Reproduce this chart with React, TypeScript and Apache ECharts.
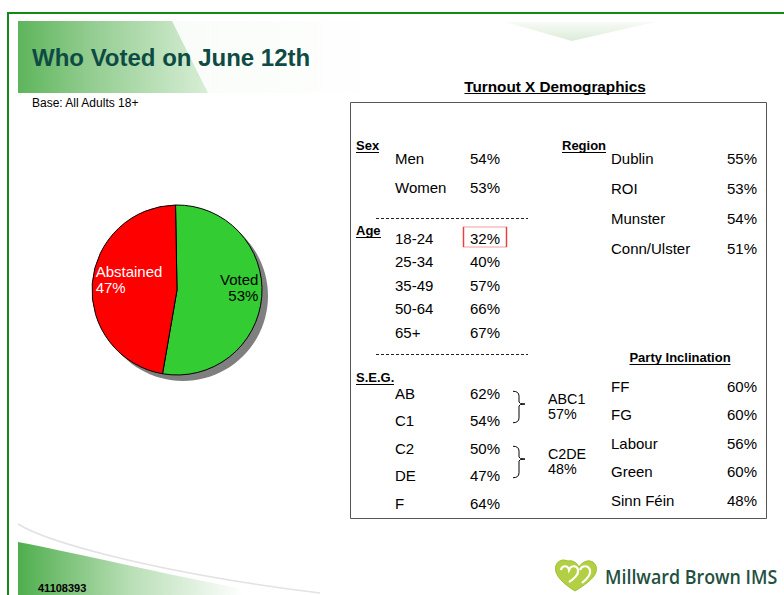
import React, { useEffect, useRef } from 'react';
import * as echarts from 'echarts';

// ---------- data ----------
const pieNames = ['Voted', 'Abstained'];
const pieValues = [53, 47];
const pieColors = ['#33cc33', '#ff0000'];
const pieLabelColors = ['#000000', '#ffffff'];

const sexCats = ['Men', 'Women'];
const sexVals = [54, 53];

const ageCats = ['18-24', '25-34', '35-49', '50-64', '65+'];
const ageVals = [32, 40, 57, 66, 67];
const highlightedAge = '18-24';

const segCats = ['AB', 'C1', 'C2', 'DE', 'F'];
const segVals = [62, 54, 50, 47, 64];
const segGroupCats = ['ABC1', 'C2DE'];
const segGroupVals = [57, 48];

const regionCats = ['Dublin', 'ROI', 'Munster', 'Conn/Ulster'];
const regionVals = [55, 53, 54, 51];

const partyCats = ['FF', 'FG', 'Labour', 'Green', 'Sinn Féin'];
const partyVals = [60, 60, 56, 60, 48];

const titleText = 'Who Voted on June 12th';
const baseText = 'Base: All Adults 18+';
const tableTitle = 'Turnout X Demographics';
const footerCode = '41108393';
const brandText = 'Millward Brown IMS';

// ---------- shapes ----------
echarts.graphic.registerShape(
  'brace',
  echarts.graphic.extendPath('M0 0 Q6 0 6 5 L6 11 Q6 13 12 13 Q6 13 6 15 L6 27 Q6 32 0 32', {})
);
echarts.graphic.registerShape(
  'swoosh',
  echarts.graphic.extendPath('M18 542 C90 556 180 578 300 600 L18 600 Z', {})
);
echarts.graphic.registerShape(
  'logoMark',
  echarts.graphic.extendPath(
    'M11 3 C5 3 1 8 3 15 C5 22 14 29 22 34 C30 29 41 22 43 15 C45 8 40 3 34 4 C30 5 27 8 26 10 C24 6 20 3 15 4 Z',
    {}
  )
);
echarts.graphic.registerShape(
  'logoInner',
  echarts.graphic.extendPath(
    'M8 13 C9 8 15 8 16 13 C18 8 24 8 25 13 C26 17 21 22 16 25 M27 13 C29 8 35 8 37 13 C38 17 34 22 29 26',
    {}
  )
);

const FONT = '"Liberation Sans", Arial, Helvetica, sans-serif';
const TABLE_FS = 15;

function txt(x: number, y: number, text: string, o: any = {}) {
  return {
    type: 'text',
    x,
    y,
    scaleX: o.scaleX || 1,
    silent: true,
    style: {
      text,
      fill: o.fill || '#000',
      fontSize: o.fontSize || 12,
      fontWeight: o.fontWeight || 'normal',
      fontFamily: o.fontFamily || FONT,
      align: o.align || 'left',
      verticalAlign: 'middle',
      lineHeight: o.lineHeight,
    },
  };
}
function line(x1: number, y1: number, x2: number, y2: number, o: any = {}) {
  return {
    type: 'line',
    silent: true,
    shape: { x1, y1, x2, y2 },
    style: { stroke: o.stroke || '#000', lineWidth: o.lineWidth || 1, lineDash: o.lineDash },
  };
}

type Block = {
  cats: string[];
  vals: number[];
  top: number;
  rowH: number;
  labelX: number;
  valueX: number;
  right: boolean;
};

const blocks: Block[] = [
  { cats: sexCats, vals: sexVals, top: 143.8, rowH: 29, labelX: 395, valueX: 470, right: false },
  { cats: ageCats, vals: ageVals, top: 226.25, rowH: 23.5, labelX: 395, valueX: 470, right: false },
  { cats: segCats, vals: segVals, top: 379.5, rowH: 27.5, labelX: 395, valueX: 470, right: false },
  { cats: regionCats, vals: regionVals, top: 142.9, rowH: 30.3, labelX: 611, valueX: 757, right: true },
  { cats: partyCats, vals: partyVals, top: 371.75, rowH: 28.5, labelX: 611, valueX: 757, right: true },
];

function buildOption() {
  const grid: any[] = [];
  const xAxis: any[] = [];
  const yAxis: any[] = [];
  const series: any[] = [];

  // pie shadow + pie
  series.push({
    type: 'pie',
    silent: true,
    center: [183, 296],
    radius: 85,
    label: { show: false },
    labelLine: { show: false },
    itemStyle: { color: '#7f7f7f' },
    data: [{ name: 'shadow', value: 1 }],
  });
  series.push({
    type: 'pie',
    silent: true,
    center: [177, 290],
    radius: 85,
    startAngle: 91,
    clockwise: true,
    itemStyle: { borderColor: '#000', borderWidth: 1 },
    label: {
      show: true,
      position: 'inside',
      formatter: '{b}\n{c}%',
      fontSize: 15,
      lineHeight: 16,
      fontFamily: FONT,
    },
    labelLayout: (p: any) =>
      p.dataIndex === 0
        ? { dx: 36, dy: -6, align: 'right' }
        : { dx: -36, dy: -7, align: 'left' },
    emphasis: { disabled: true },
    data: pieNames.map((n, i) => ({
      name: n,
      value: pieValues[i],
      itemStyle: { color: pieColors[i] },
      label: { color: pieLabelColors[i] },
    })),
  });

  blocks.forEach((b, i) => {
    const left = b.right ? b.labelX + 90 : b.valueX;
    const width = b.right ? b.valueX - left : 50;
    grid.push({
      left,
      top: b.top,
      width,
      height: b.rowH * b.cats.length,
      containLabel: false,
      outerBoundsMode: 'none',
    });
    xAxis.push({ type: 'value', gridIndex: i, min: 0, max: 1, show: false });
    yAxis.push({
      type: 'category',
      gridIndex: i,
      data: b.cats,
      inverse: true,
      axisLine: { show: false },
      axisTick: { show: false },
      splitLine: { show: false },
      axisLabel: {
        interval: 0,
        align: 'left',
        margin: left - b.labelX,
        fontSize: TABLE_FS,
        color: '#000',
        fontFamily: FONT,
      },
    });
    series.push({
      type: 'scatter',
      xAxisIndex: i,
      yAxisIndex: i,
      silent: true,
      symbolSize: 0,
      itemStyle: { opacity: 1 },
      emphasis: { disabled: true },
      label: {
        show: true,
        position: b.right ? 'left' : 'right',
        distance: 0,
        fontSize: TABLE_FS,
        color: '#000',
        opacity: 1,
        fontFamily: FONT,
        formatter: (p: any) => p.value[2] + '%',
      },
      data: b.vals.map((v, j) => [b.right ? 1 : 0, j, v]),
    });
  });

  // highlight box around the youngest age group's value
  series.push({
    type: 'scatter',
    xAxisIndex: 1,
    yAxisIndex: 1,
    silent: true,
    symbol: 'rect',
    symbolSize: [43, 20],
    symbolOffset: [15, -1],
    itemStyle: { color: 'rgba(0,0,0,0)', borderColor: '#e8403a', borderWidth: 1, opacity: 1 },
    emphasis: { disabled: true },
    data: ageCats.filter((c) => c === highlightedAge).map((c) => [0, ageCats.indexOf(c)]),
  });

  // ---------- decorations / text ----------
  const segB = blocks[2];
  const rowY = (b: Block, j: number) => b.top + (j + 0.5) * b.rowH;
  const braces: any[] = [];
  segGroupCats.forEach((g, k) => {
    const y1 = rowY(segB, 2 * k) - 2;
    const y2 = rowY(segB, 2 * k + 1) + 2;
    const mid = (y1 + y2) / 2 - 1;
    braces.push({
      type: 'brace',
      x: 513,
      y: y1,
      scaleY: (y2 - y1) / 32,
      silent: true,
      style: { stroke: '#000', fill: 'none', lineWidth: 1, strokeNoScale: true },
    });
    braces.push(txt(548, mid - 7.5, g, { fontSize: 14.3 }));
    braces.push(txt(548, mid + 7.5, segGroupVals[k] + '%', { fontSize: 14.3 }));
  });

  const header = (x: number, y: number, t: string, w: number, align = 'left') => {
    const x0 = align === 'center' ? x - w / 2 : x;
    return [
      txt(x, y, t, { fontSize: 13, fontWeight: 'bold', align }),
      line(x0, y + 7.5, x0 + w, y + 7.5, { lineWidth: 1 }),
    ];
  };

  const graphic: any[] = [
    // banner
    {
      type: 'rect',
      silent: true,
      shape: { x: 18, y: 21, width: 766, height: 72 },
      style: {
        fill: {
          type: 'linear', x: 0, y: 0, x2: 1, y2: 0,
          colorStops: [
            { offset: 0, color: '#f4faf3' },
            { offset: 0.5, color: '#ffffff' },
            { offset: 1, color: '#ffffff' },
          ],
        },
      },
    },
    {
      type: 'polygon',
      silent: true,
      shape: { points: [[18, 21], [172, 21], [208, 93], [18, 93]] },
      style: {
        fill: {
          type: 'linear', x: 0, y: 0, x2: 1, y2: 0,
          colorStops: [
            { offset: 0, color: '#5db55b' },
            { offset: 0.35, color: '#8fcb8c' },
            { offset: 1, color: '#d8eed6' },
          ],
        },
      },
    },
    {
      type: 'polygon',
      silent: true,
      shape: { points: [[505, 22], [655, 22], [572, 41]] },
      style: {
        fill: {
          type: 'linear', x: 0, y: 0, x2: 0, y2: 1,
          colorStops: [
            { offset: 0, color: '#f7fbf6' },
            { offset: 1, color: '#dcecd8' },
          ],
        },
      },
    },
    // bottom swoosh
    {
      type: 'swoosh',
      silent: true,
      style: {
        fill: {
          type: 'linear', x: 0, y: 0, x2: 1, y2: 0,
          colorStops: [
            { offset: 0, color: '#4fae4d' },
            { offset: 0.4, color: '#b9dfb6' },
            { offset: 0.8, color: '#ffffff' },
          ],
        },
      },
    },
    {
      type: 'bezierCurve',
      silent: true,
      shape: { x1: 18, y1: 524, cpx1: 45, cpy1: 541, cpx2: 150, cpy2: 572, x2: 320, y2: 593 },
      style: { stroke: '#e2e2e2', lineWidth: 1.5, fill: 'none' },
    },
    // frame
    line(8, 13, 784, 13, { stroke: '#118a18', lineWidth: 2 }),
    line(8, 12, 8, 595, { stroke: '#118a18', lineWidth: 2 }),
    // table box
    {
      type: 'rect',
      silent: true,
      z: -1,
      shape: { x: 350.5, y: 102.5, width: 416, height: 416 },
      style: { fill: '#fff', stroke: '#555', lineWidth: 1 },
    },
    txt(32, 57, titleText, { fontSize: 24, fontWeight: 'bold', fill: '#0e4b44' }),
    txt(32, 103, baseText, { fontSize: 12 }),
    txt(555, 86, tableTitle, { fontSize: 15.3, fontWeight: 'bold', align: 'center' }),
    line(464.5, 93.5, 645.5, 93.5, { lineWidth: 1 }),
    ...header(356, 145, 'Sex', 23),
    ...header(356, 230, 'Age', 25),
    ...header(356, 377, 'S.E.G.', 38),
    ...header(562, 145, 'Region', 44),
    ...header(680, 357, 'Party Inclination', 101, 'center'),
    line(376, 218.5, 528, 218.5, { lineDash: [3, 2], stroke: '#222' }),
    line(376, 354.5, 528, 354.5, { lineDash: [3, 2], stroke: '#222' }),
    ...braces,
    txt(38, 588, footerCode, { fontSize: 11, fontWeight: 'bold' }),
    // logo
    {
      type: 'logoMark',
      x: 553,
      y: 557,
      silent: true,
      style: { fill: '#b3d045', stroke: '#9cbf2e', lineWidth: 1 },
    },
    {
      type: 'logoInner',
      x: 553,
      y: 557,
      silent: true,
      style: { fill: 'none', stroke: '#ffffff', lineWidth: 2.2 },
    },
    txt(605, 576, brandText, {
      fontSize: 19,
      fontWeight: 600,
      fill: '#24503f',
      scaleX: 0.94,
      fontFamily: '"Open Sans", "Noto Sans", sans-serif',
    }),
  ];

  return {
    animation: false,
    backgroundColor: '#ffffff',
    grid,
    xAxis,
    yAxis,
    series,
    graphic,
  };
}

export default function App() {
  const ref = useRef<HTMLDivElement>(null);
  useEffect(() => {
    document.body.style.margin = '0';
    const chart = echarts.init(ref.current!, null, { renderer: 'svg' });
    chart.setOption(buildOption() as any);
    return () => chart.dispose();
  }, []);
  return (
    <div
      ref={ref}
      style={{ position: 'absolute', left: 0, top: 0, width: 784, height: 595 }}
    />
  );
}
